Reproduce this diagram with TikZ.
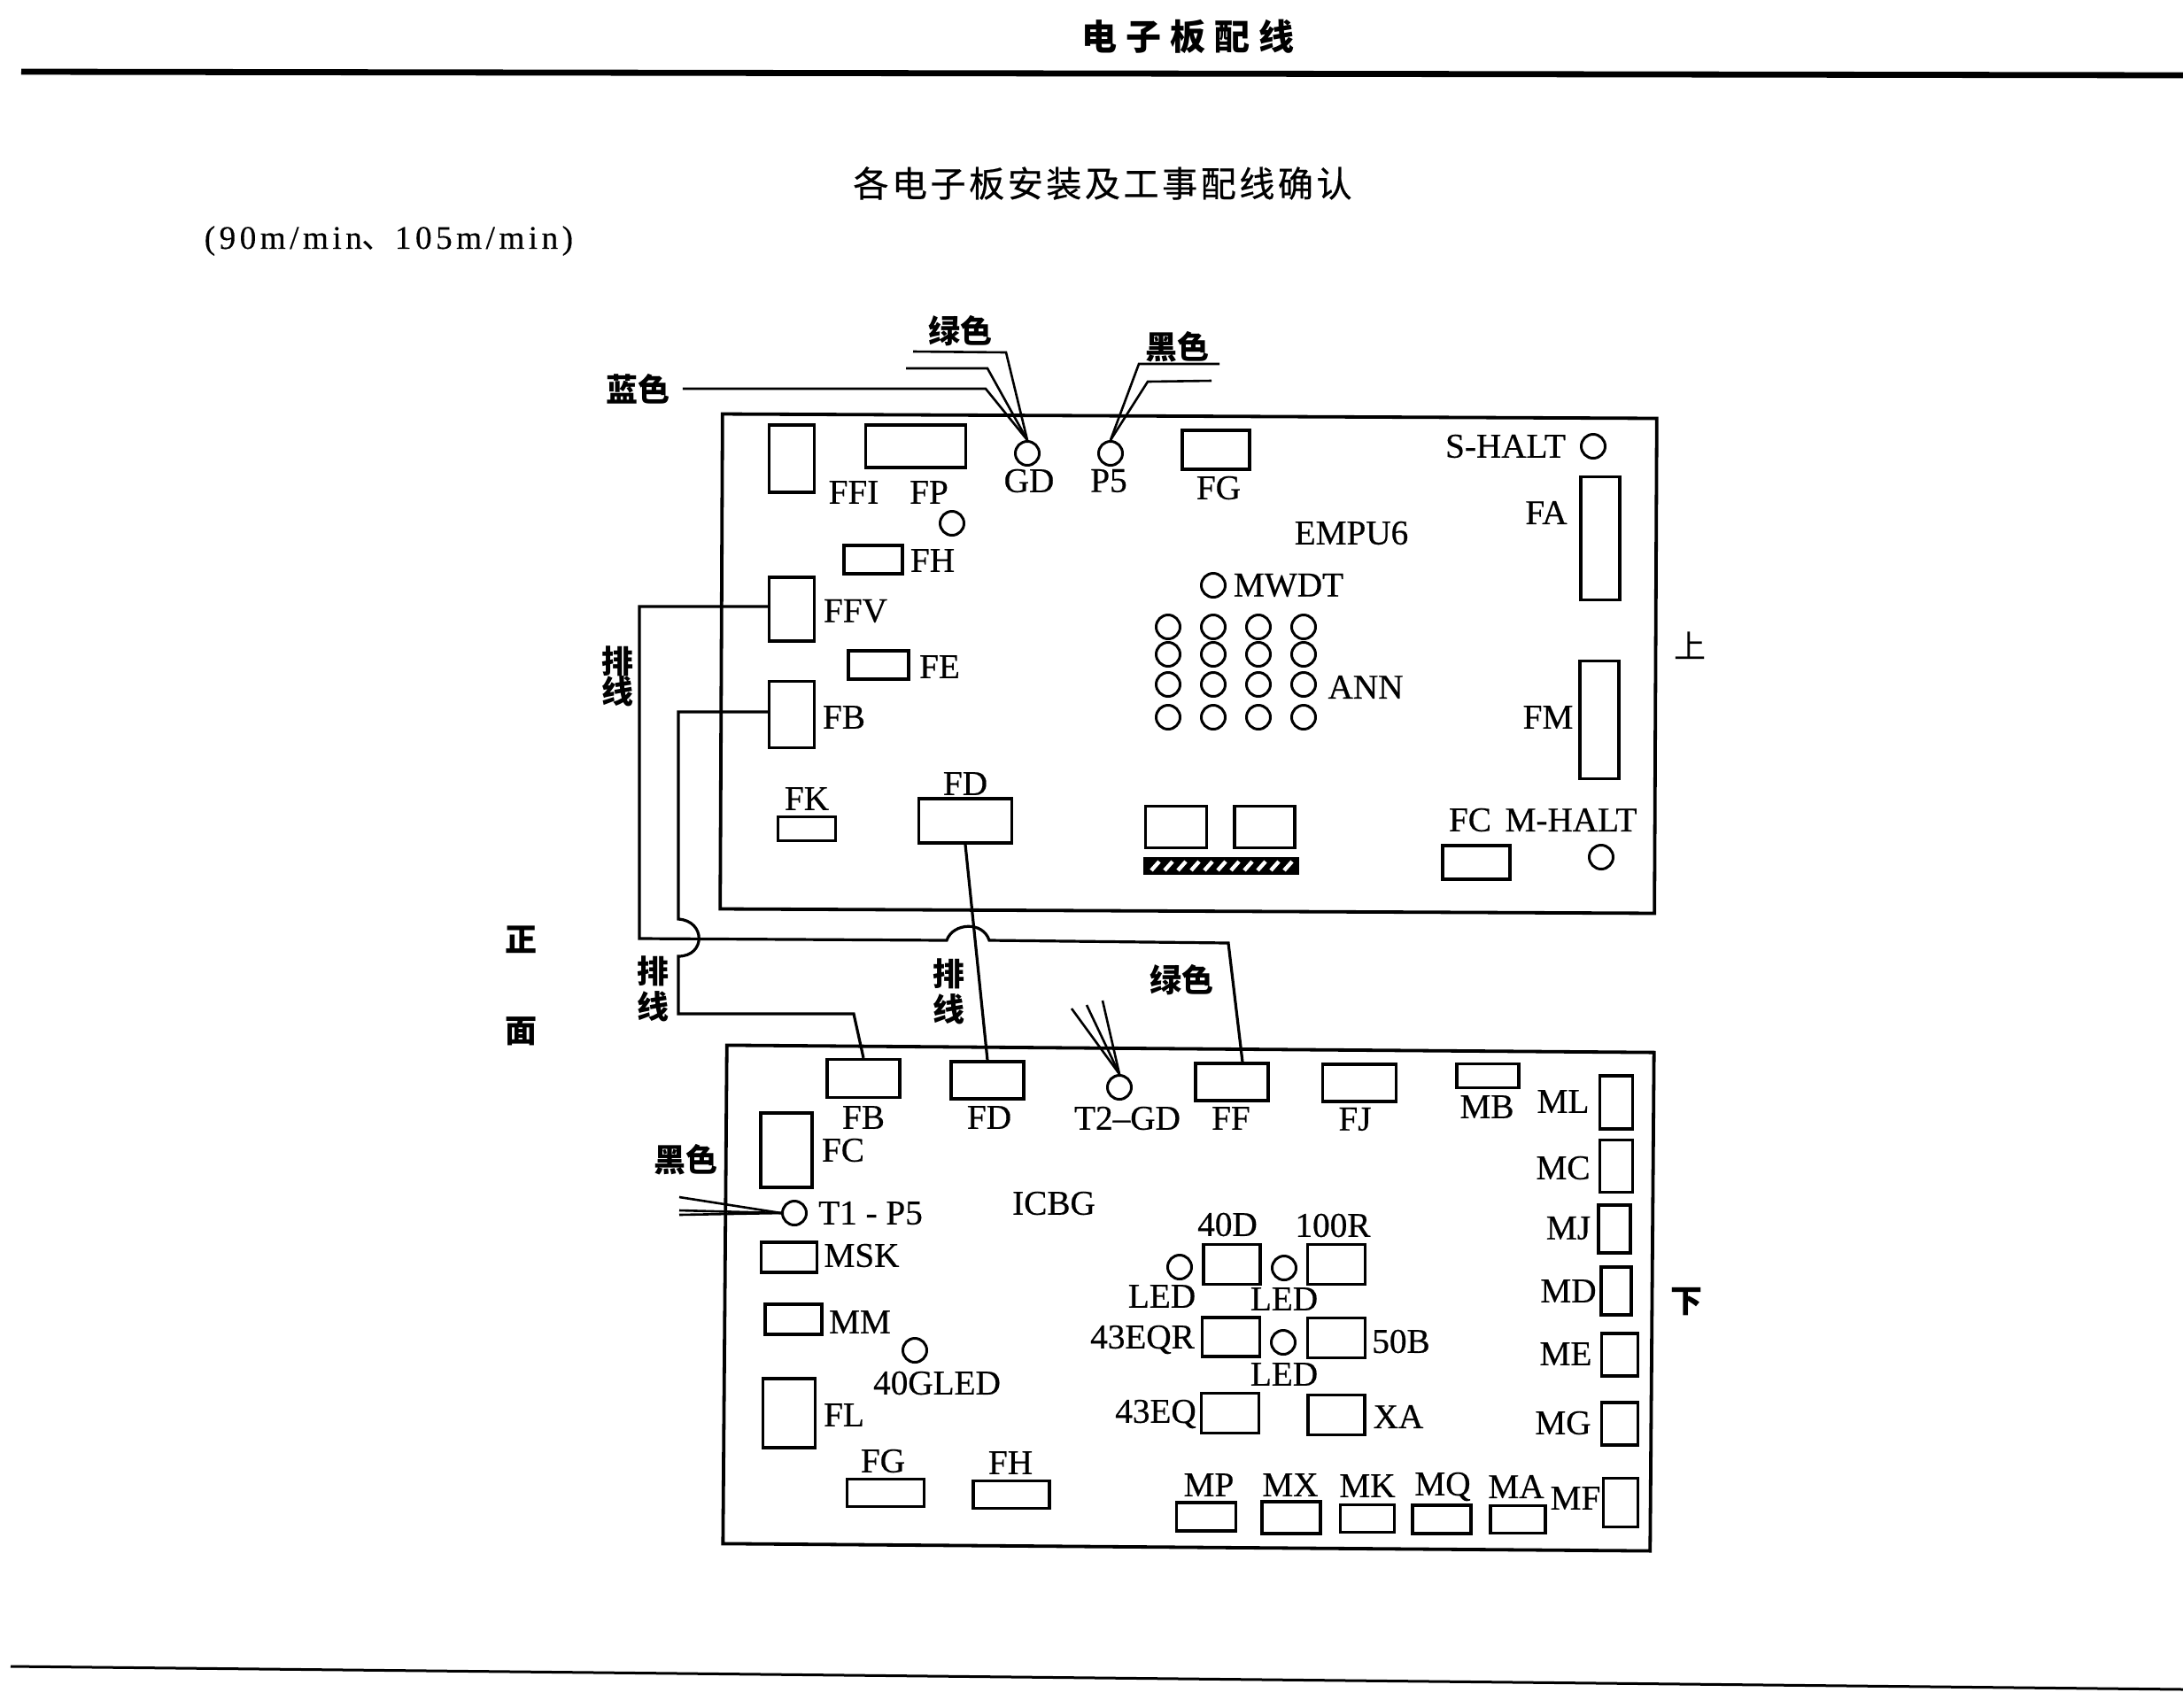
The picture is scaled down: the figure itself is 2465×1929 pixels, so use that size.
\documentclass[tikz,border=0pt]{standalone}
\usepackage{fontspec}
\setmainfont[FakeBold=0.5]{Liberation Serif}
\newfontfamily\cjk{Noto Sans CJK SC}
\newfontfamily\cjkwide[LetterSpace=25]{Noto Sans CJK SC}
\newfontfamily\cjkmid[LetterSpace=9,FakeBold=0.6]{Noto Sans CJK SC}
\newfontfamily\speedfont[LetterSpace=12,FakeBold=0.3]{Liberation Serif}
\usetikzlibrary{positioning}

\begin{document}
\begin{tikzpicture}
[x=0.25pt,y=-0.25pt,
every node/.style={inner sep=0pt,font=\fontsize{9.8}{11}\selectfont},
r/.style 2 args = {rectangle,draw,line width=0.85pt,minimum width=#1*0.25pt,minimum height=#2*0.25pt},
board/.style 2 args = {rectangle,draw,line width=0.95pt,minimum width=#1*0.25pt,minimum height=#2*0.25pt},
c/.style = {circle,draw,line width=0.75pt,minimum size=27*0.25pt},
wire/.style = {draw,line width=0.8pt},
tail/.style = {draw,line width=0.65pt},
rule/.style = {draw,line width=1.7pt},
cn/.style = {font=\cjk\bfseries\fontsize{9}{10}\selectfont,align=center}]

\useasboundingbox (0,0) rectangle (2465,1929);

\node[font=\cjkwide\bfseries\fontsize{10}{11}\selectfont] (title) at (1341,41) {电子板配线};
\coordinate (rule-a) at (24,81);
\coordinate (rule-b) at (2465,85);
\draw[rule] (rule-a) -- (rule-b);
\node[font=\cjkmid\fontsize{10}{11}\selectfont] (subtitle) at (1245,207) {各电子板安装及工事配线确认};
\node[font=\speedfont\fontsize{9.3}{11}\selectfont,anchor=west] (speed) at (230,272) {(90m/min{\cjk 、}105m/min)};
\coordinate (foot-a) at (12,1882);
\coordinate (foot-b) at (2465,1908);
\draw[line width=0.75pt] (foot-a) -- (foot-b);

\node[board={1055}{559},rotate=-0.27] (EMPU) at (1342,749.5) {};
\node[board={1047}{563},rotate=-0.45] (ICBG) at (1342,1466) {};

\node[r={51}{76}] (FFI) at (894,518) {};
   \node (FFI-t) at (964,556) {FFI};
\node[r={113}{48}] (FP) at (1034,504) {};
   \node (FP-t) at (1049,556) {FP};
\node[c] (GD) at (1160,512) {};
   \node (GD-t) at (1162,543) {GD};
\node[c] (P5) at (1254,512) {};
   \node (P5-t) at (1252,543) {P5};
\node[c] (FP-led) at (1075,591) {};
\node[r={66}{32}] (FH) at (986,632) {};
   \node (FH-t) at (1053,633) {FH};
\node[r={51}{72}] (FFV) at (894,688) {};
   \node (FFV-t) at (966,690) {FFV};
\node[r={68}{32}] (FE) at (992,751) {};
   \node (FE-t) at (1061,753) {FE};
\node[r={51}{75}] (FB) at (894,807) {};
   \node (FB-t) at (953,810) {FB};
\node[r={65}{27}] (FK) at (911,936) {};
   \node (FK-t) at (911,902) {FK};
\node[r={105}{50}] (FD) at (1090,927) {};
   \node (FD-t) at (1090,885) {FD};
\node[r={76}{44}] (FG) at (1373,508) {};
   \node (FG-t) at (1376,551) {FG};
\node[c] (S-HALT) at (1799,504) {};
   \node (S-HALT-t) at (1700,504) {S-HALT};
\node (EMPU-t) at (1526,602) {EMPU6};
\node[r={44}{139}] (FA) at (1807,608) {};
   \node (FA-t) at (1746,579) {FA};
\node[c] (MWDT) at (1370,661) {};
   \node (MWDT-t) at (1455,661) {MWDT};
\foreach \px in {1319,1370,1421,1472}
   \foreach \py in {708,739,773,810}
      \node[c] (ANN-\px-\py) at (\px,\py) {};
\node (ANN-t) at (1542,776) {ANN};
\node[r={44}{133}] (FM) at (1806,813) {};
   \node (FM-t) at (1748,810) {FM};
\node[r={76}{38}] (FC) at (1667,974) {};
   \node (FC-t) at (1660,926) {FC};
\node (M-HALT-t) at (1774,926) {M-HALT};
\node[c] (M-HALT) at (1808,968) {};
\node[r={69}{47}] (relay-a) at (1328,934) {};
\node[r={68}{47}] (relay-b) at (1428,934) {};
\node[r={172}{17},fill=black] (strip) at (1379,978) {};
\foreach \sx in {1300,1315,...,1450}
   \draw[white,line width=1.1pt] (\sx,983) -- (\sx+9,973);

\node[r={82}{43}] (low-FB) at (975,1218) {};
   \node (low-FB-t) at (975,1262) {FB};
\node[r={82}{42}] (low-FD) at (1115,1220) {};
   \node (low-FD-t) at (1117,1262) {FD};
\node[c] (T2-GD) at (1264,1228) {};
   \node (T2-GD-t) at (1273,1263) {T2--GD};
\node[r={82}{42}] (low-FF) at (1391,1222) {};
   \node (low-FF-t) at (1390,1263) {FF};
\node[r={83}{42}] (FJ) at (1535,1223) {};
   \node (FJ-t) at (1530,1264) {FJ};
\node[r={70}{27}] (MB) at (1680,1215) {};
   \node (MB-t) at (1679,1250) {MB};
\node[r={58}{84}] (low-FC) at (888,1299) {};
   \node (low-FC-t) at (952,1299) {FC};
\node[c] (T1-P5) at (897,1370) {};
   \node (T1-P5-t) at (983,1370) {T1 - P5};
\node (ICBG-t) at (1190,1359) {ICBG};
\node[r={63}{34}] (MSK) at (891,1420) {};
   \node (MSK-t) at (973,1418) {MSK};
\node[r={64}{34}] (MM) at (896,1490) {};
   \node (MM-t) at (971,1493) {MM};
\node[c] (GLED) at (1033,1525) {};
   \node (GLED-t) at (1058,1562) {40GLED};
\node[r={59}{78}] (FL) at (891,1596) {};
   \node (FL-t) at (953,1598) {FL};
\node[r={87}{31}] (low-FG) at (1000,1686) {};
   \node (low-FG-t) at (997,1650) {FG};
\node[r={86}{31}] (low-FH) at (1142,1688) {};
   \node (low-FH-t) at (1141,1652) {FH};

\node[r={64}{45}] (40D) at (1391,1428) {};
   \node (40D-t) at (1386,1383) {40D};
\node[r={65}{45}] (100R) at (1509,1428) {};
   \node (100R-t) at (1505,1384) {100R};
\node[c] (LED-a) at (1332,1431) {};
   \node (LED-a-t) at (1312,1464) {LED};
\node[c] (LED-b) at (1450,1432) {};
   \node (LED-b-t) at (1450,1467) {LED};
\node[r={65}{44}] (43EQR) at (1390,1510) {};
   \node (43EQR-t) at (1290,1513) {43EQR};
\node[c] (LED-c) at (1449,1516) {};
   \node (LED-c-t) at (1450,1552) {LED};
\node[r={65}{45}] (50B) at (1509,1511) {};
   \node (50B-t) at (1582,1515) {50B};
\node[r={65}{45}] (43EQ) at (1389,1596) {};
   \node (43EQ-t) at (1305,1597) {43EQ};
\node[r={64}{45}] (XA) at (1509,1598) {};
   \node (XA-t) at (1579,1600) {XA};

\node[r={67}{32}] (MP) at (1362,1713) {};
   \node (MP-t) at (1365,1677) {MP};
\node[r={66}{36}] (MX) at (1458,1714) {};
   \node (MX-t) at (1457,1677) {MX};
\node[r={61}{31}] (MK) at (1544,1715) {};
   \node (MK-t) at (1544,1678) {MK};
\node[r={66}{32}] (MQ) at (1628,1716) {};
   \node (MQ-t) at (1629,1679) {MQ};
\node[r={62}{31}] (MA) at (1714,1716) {};
   \node (MA-t) at (1712,1679) {MA};
\node[r={39}{55}] (MF) at (1830,1697) {};
   \node (MF-t) at (1779,1692) {MF};
\node[r={37}{60}] (ML) at (1825,1245) {};
   \node (ML-t) at (1765,1244) {ML};
\node[r={37}{59}] (MC) at (1825,1317) {};
   \node (MC-t) at (1765,1319) {MC};
\node[r={36}{54}] (MJ) at (1823,1388) {};
   \node (MJ-t) at (1771,1387) {MJ};
\node[r={34}{54}] (MD) at (1825,1458) {};
   \node (MD-t) at (1771,1458) {MD};
\node[r={41}{48}] (ME) at (1829,1530) {};
   \node (ME-t) at (1768,1529) {ME};
\node[r={41}{48}] (MG) at (1829,1608) {};
   \node (MG-t) at (1765,1607) {MG};

\node[cn] (green-top) at (1084,374) {绿色};
\node[cn] (blue-top) at (720,439) {蓝色};
\node[cn] (black-top) at (1329,392) {黑色};
\node[cn] (green-low) at (1334,1107) {绿色};
\node[cn] (black-low) at (774,1310) {黑色};
\node[cn] (flat-a) at (697,764) {排\\[-1.5pt]线};
\node[cn] (flat-b) at (737,1117) {排\\线};
\node[cn] (flat-c) at (1071,1120) {排\\线};
\node[cn,font=\cjk\fontsize{9}{10}\selectfont] (up) at (1908,729) {上};
\node[cn] (down) at (1904,1470) {下};
\node[cn] (front) at (588,1061) {正};
\node[cn] (face) at (588,1165) {面};

\coordinate (gd-a) at (1031,397);
\coordinate (gd-b) at (1023,416);
\coordinate (p5-a) at (1377,411);
\coordinate (p5-b) at (1368,430);
\coordinate (t2-a) at (1210,1139);
\coordinate (t2-b) at (1227,1135);
\coordinate (t2-c) at (1245,1130);
\coordinate (t1-a) at (767,1352);
\coordinate (t1-b) at (767,1367);
\coordinate (t1-c) at (767,1372);

\path[tail] (blue-top.east) ++(14,0) -- (1113,439) -- (GD.north);
\path[tail] (gd-a) -- (1136,398) -- (GD.north);
\path[tail] (gd-b) -- (1115,416) -- (GD.north);
\path[tail] (p5-a) -- (1286,411) -- (P5.north);
\path[tail] (p5-b) -- (1296,431) -- (P5.north);
\path[tail] (t2-a) -- (T2-GD.north);
\path[tail] (t2-b) -- (T2-GD.north);
\path[tail] (t2-c) -- (T2-GD.north);
\path[tail] (t1-a) -- (T1-P5.west);
\path[tail] (t1-b) -- (T1-P5.west);
\path[tail] (t1-c) -- (T1-P5.west);

\path[wire] ([yshift=0.75pt]FFV.west) -| (722,1060) -- (1069,1062) .. controls (1076,1042) and (1110,1040) .. (1117,1062) -- (1387,1065) -- ([xshift=3pt]low-FF.north);
\path[wire] ([yshift=0.75pt]FB.west) -| (766,1038) .. controls (797,1040) and (797,1080) .. (766,1080) -- (766,1145) -- (964,1145) -- (low-FB.north);
\path[wire] (FD.south) -- (low-FD.north);
\end{tikzpicture}
\end{document}
